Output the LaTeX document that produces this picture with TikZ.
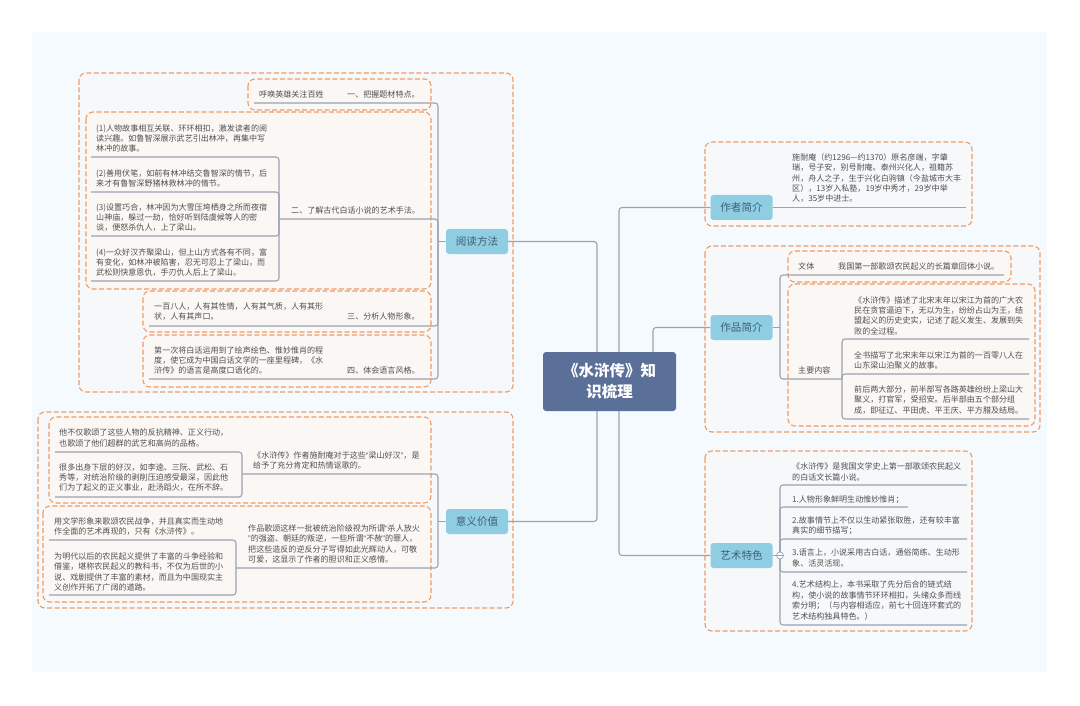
\documentclass[tikz,border=0pt]{standalone}
\usepackage{fontspec}
\setmainfont{Noto Sans CJK SC}
\newfontfamily\quotefont{Liberation Sans}
\newcommand{\qopen}{{\quotefont “}}
\newcommand{\qclose}{{\quotefont ”}}
\definecolor{bgblue}{HTML}{F5FAFE}
\definecolor{dashorange}{HTML}{EE9C66}
\definecolor{outerfill}{HTML}{F7F8FA}
\definecolor{innerfill}{HTML}{FBF7F4}
\definecolor{linegray}{HTML}{9AA3B1}
\definecolor{topicblue}{HTML}{8FCDE3}
\definecolor{topicink}{HTML}{3F5F72}
\definecolor{rootblue}{HTML}{5B7099}
\definecolor{textgray}{HTML}{505050}
\tikzset{
  outerbox/.style={draw=dashorange,fill=outerfill,dash pattern=on 5pt off 2.5pt,line width=1.1pt,rounded corners=7pt},
  innerbox/.style={draw=dashorange,fill=innerfill,dash pattern=on 5pt off 2.5pt,line width=1.1pt,rounded corners=7pt},
  branch/.style={draw=linegray,line width=1.1pt,rounded corners=3pt},
  topic/.style={fill=topicblue,text=topicink,rounded corners=3pt,minimum width=62pt,minimum height=25pt,
    inner sep=0pt,font=\fontsize{10.6}{13}\selectfont},
  txt/.style={anchor=west,align=left,inner sep=0pt,yshift=-0.5pt,text=textgray,font=\fontsize{8.05}{10.35}\selectfont},
}
\begin{document}
\begin{tikzpicture}[x=1pt,y=-1pt]
\useasboundingbox (0,0) rectangle (1080,706);
\fill[bgblue] (32,32) rectangle (1047,672);

% dashed boxes
\draw[outerbox] (79,73) rectangle (513,392);
\draw[innerbox] (248,79) rectangle (431,110);
\draw[innerbox] (86,112) rectangle (431,289);
\draw[innerbox] (143,291) rectangle (431,332);
\draw[innerbox] (143,335) rectangle (431,387);

\draw[outerbox] (38,412) rectangle (513,608);
\draw[innerbox] (49,417) rectangle (431,503);
\draw[innerbox] (43,506) rectangle (431,602);

\draw[outerbox] (705,142) rectangle (972,226);
\draw[outerbox] (705,246) rectangle (1040,432);
\draw[innerbox] (788,251) rectangle (1011,282);
\draw[innerbox] (788,284) rectangle (1035,426);
\draw[outerbox] (705,451) rectangle (972,631);

% main nodes
\node[fill=rootblue,text=white,rounded corners=3pt,minimum width=133pt,minimum height=59pt,inner sep=0pt,
  align=center,font=\fontsize{15.5}{21}\selectfont\bfseries] (root) at (609.5,381.5) {《水浒传》知\\识梳理};
\node[topic] (read) at (477,241.5) {阅读方法};
\node[topic] (mean) at (477,521.5) {意义价值};
\node[topic] (auth) at (741.5,207.5) {作者简介};
\node[topic] (work) at (741.5,327.5) {作品简介};
\node[topic] (art) at (741.5,555.5) {艺术特色};

% root to topics
\coordinate (rl) at (597,352);
\coordinate (rm) at (597,411);
\coordinate (ra) at (619,352);
\coordinate (rb) at (653,352);
\coordinate (rc) at (619,411);
\draw[branch] (rl) |- (read.east);
\draw[branch] (rm) |- (mean.east);
\draw[branch] (ra) |- (auth.west);
\draw[branch] (rb) |- (work.west);
\draw[branch] (rc) |- (art.west);

% read
\coordinate (a0) at (438,241.5);
\coordinate (a1) at (254,103);
\coordinate (a2) at (279,219);
\coordinate (a3) at (149,326);
\coordinate (a4) at (149,379);
\coordinate (a21) at (91,157);
\coordinate (a22) at (91,192);
\coordinate (a23) at (91,236);
\coordinate (a24) at (91,281);
\draw[branch] (a0) -- (read.west);
\draw[branch] (a1) -| (a0) |- (a4);
\draw[branch] (a2) -| (a0);
\draw[branch] (a3) -| (a0);
\draw[branch] (a21) -| (a2) |- (a24);
\draw[branch] (a22) -| (a2);
\draw[branch] (a23) -| (a2);

\node[txt] (a1l) at (259,94) {呼唤英雄关注百姓};
\node[txt] (a1r) at (347,94) {一、把握题材特点。};
\node[txt] (a2r) at (291,210) {二、了解古代白话小说的艺术手法。};
\node[txt] (a21t) at (96,138) {(1)人物故事相互关联、环环相扣，激发读者的阅\\读兴趣。如鲁智深展示武艺引出林冲，再集中写\\林冲的故事。};
\node[txt] (a22t) at (96,178) {(2)善用伏笔，如前有林冲结交鲁智深的情节，后\\来才有鲁智深野猪林救林冲的情节。};
\node[txt] (a23t) at (96,217) {(3)设置巧合，林冲因为大雪压垮栖身之所而夜宿\\山神庙，躲过一劫，恰好听到陆虞候等人的密\\谈，便怒杀仇人，上了梁山。};
\node[txt] (a24t) at (96,262) {(4)一众好汉齐聚梁山，但上山方式各有不同，富\\有变化，如林冲被陷害，忍无可忍上了梁山，而\\武松则快意恩仇，手刃仇人后上了梁山。};
\node[txt] (a3l) at (154,311) {一百八人，人有其性情，人有其气质，人有其形\\状，人有其声口。};
\node[txt] (a3r) at (347,316) {三、分析人物形象。};
\node[txt] (a4l) at (154,360) {第一次将白话运用到了绘声绘色、惟妙惟肖的程\\度，使它成为中国白话文学的一座里程碑，《水\\浒传》的语言是高度口语化的。};
\node[txt] (a4r) at (347,370) {四、体会语言风格。};

% mean
\coordinate (b0) at (438,521.5);
\coordinate (b1) at (242,474);
\coordinate (b2) at (236,568);
\coordinate (b11) at (55,452);
\coordinate (b12) at (55,497);
\coordinate (b21) at (49,540);
\coordinate (b22) at (49,595);
\draw[branch] (b0) -- (mean.west);
\draw[branch] (b1) -| (b0) |- (b2);
\draw[branch] (b11) -| (b1) |- (b12);
\draw[branch] (b21) -| (b2) |- (b22);

\node[txt] (b11t) at (59,437.5) {他不仅歌颂了这些人物的反抗精神、正义行动，\\也歌颂了他们超群的武艺和高尚的品格。};
\node[txt] (b12t) at (59,477) {很多出身下层的好汉，如李逵、三阮、武松、石\\秀等，对统治阶级的剥削压迫感受最深，因此他\\们为了起义的正义事业，赴汤蹈火，在所不辞。};
\node[txt] (b1t) at (253,460) {《水浒传》作者施耐庵对于这些\qopen 梁山好汉\qclose ，是\\给予了充分肯定和热情讴歌的。};
\node[txt] (b21t) at (54,526) {用文学形象来歌颂农民战争，并且真实而生动地\\作全面的艺术再现的，只有《水浒传》。};
\node[txt] (b22t) at (54,571.5) {为明代以后的农民起义提供了丰富的斗争经验和\\借鉴，堪称农民起义的教科书，不仅为后世的小\\说、戏剧提供了丰富的素材，而且为中国现实主\\义创作开拓了广阔的道路。};
\node[txt] (b2t) at (248,543.5) {作品歌颂这样一批被统治阶级视为所谓\qopen 杀人放火\\\qclose 的强盗、朝廷的叛逆，一些所谓\qopen 不赦\qclose 的罪人，\\把这些造反的逆反分子写得如此光辉动人，可敬\\可爱，这显示了作者的胆识和正义感情。};

% auth
\coordinate (c1) at (966,207.5);
\draw[branch] (auth.east) -- (c1);
\node[txt] (c1t) at (792,177.5) {施耐庵（约1296—约1370）原名彦端，字肇\\瑞，号子安，别号耐庵。泰州兴化人，祖籍苏\\州，舟人之子，生于兴化白驹镇（今盐城市大丰\\区），13岁入私塾，19岁中秀才，29岁中举\\人，35岁中进士。};

% work
\coordinate (d0) at (780,327.5);
\coordinate (d1) at (1004,275);
\coordinate (d2) at (842,379);
\coordinate (d21) at (1029,339);
\coordinate (d22) at (1029,374);
\coordinate (d23) at (1029,419);
\draw[branch] (work.east) -- (d0);
\draw[branch] (d1) -| (d0) |- (d2);
\draw[branch] (d21) -| (d2) |- (d23);
\draw[branch] (d22) -| (d2);

\node[txt] (d1l) at (798,266) {文体};
\node[txt] (d1r) at (838,266) {我国第一部歌颂农民起义的长篇章回体小说。};
\node[txt] (d2l) at (798,370) {主要内容};
\node[txt] (d21t) at (854,315) {《水浒传》描述了北宋末年以宋江为首的广大农\\民在贪官逼迫下，无以为生，纷纷占山为王，结\\盟起义的历史史实，记述了起义发生、发展到失\\败的全过程。};
\node[txt] (d22t) at (854,360) {全书描写了北宋末年以宋江为首的一百零八人在\\山东梁山泊聚义的故事。};
\node[txt] (d23t) at (854,399.5) {前后两大部分，前半部写各路英雄纷纷上梁山大\\聚义，打官军，受招安。后半部由五个部分组\\成，即征辽、平田虎、平王庆、平方腊及结局。};

% art
\coordinate (e0) at (780,555.5);
\coordinate (e1) at (967,485);
\coordinate (e2) at (908,507);
\coordinate (e3) at (967,539);
\coordinate (e4) at (967,572);
\coordinate (e5) at (967,625);
\draw[branch] (e1) -| (e0) |- (e5);
\draw[branch] (e2) -| (e0);
\draw[branch] (e3) -| (e0);
\draw[branch] (e4) -| (e0);
\node[circle,draw=linegray,fill=white,line width=.7pt,minimum size=7pt,inner sep=0pt] (e0c) at (e0) {};
\draw[branch] (art.east) -- (e0c);
\draw[linegray,line width=.6pt] (e0c.west) -- (e0c.east);

\node[txt] (e1t) at (792,471.5) {《水浒传》是我国文学史上第一部歌颂农民起义\\的白话文长篇小说。};
\node[txt] (e2t) at (792,499) {1.人物形象鲜明生动惟妙惟肖；};
\node[txt] (e3t) at (792,525.5) {2.故事情节上不仅以生动紧张取胜，还有较丰富\\真实的细节描写；};
\node[txt] (e4t) at (792,557.5) {3.语言上，小说采用古白话，通俗简练、生动形\\象、活灵活现。};
\node[txt] (e5t) at (792,600) {4.艺术结构上，本书采取了先分后合的链式结\\构，使小说的故事情节环环相扣，头绪众多而线\\索分明；（与内容相适应，前七十回连环套式的\\艺术结构独具特色。）};

\end{tikzpicture}
\end{document}
